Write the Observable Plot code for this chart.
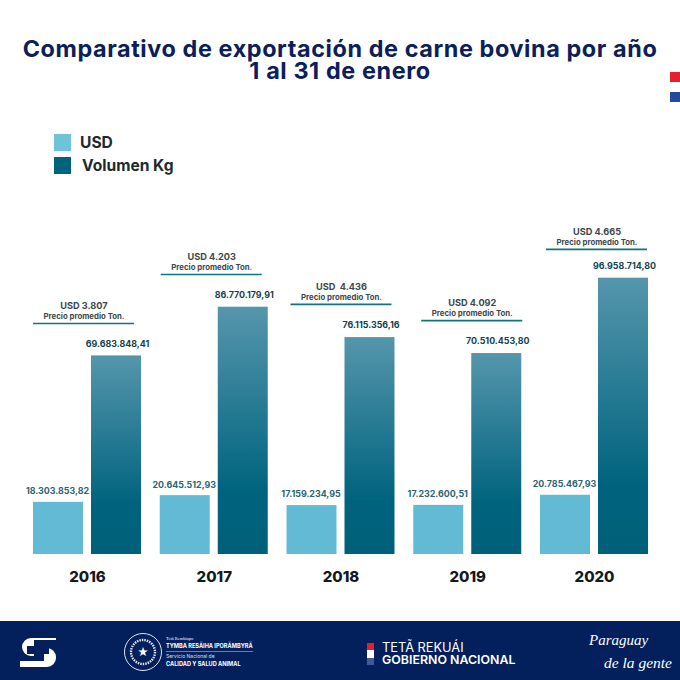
<!DOCTYPE html>
<html lang="es">
<head>
<meta charset="utf-8">
<script src="https://cdn.jsdelivr.net/npm/d3@7"></script>
<script src="https://cdn.jsdelivr.net/npm/@observablehq/plot@0.6"></script>
<style>
  html, body { margin: 0; padding: 0; background: #fff; width: 680px; height: 680px; overflow: hidden; font-family: Inter, sans-serif; }
  #head { position: relative; width: 680px; height: 180px; }
  #title { position: absolute; left: 0; top: 38px; width: 680px; text-align: center; color: #0b2059; font-weight: 700; font-size: 23.4px; line-height: 22px; letter-spacing: 0.6px; white-space: nowrap; }
  .flag { position: absolute; left: 670px; width: 10px; height: 10px; }
  .sw { position: absolute; left: 54px; width: 17px; height: 17px; }
  .lg { position: absolute; color: #1c2a30; font-weight: 700; font-size: 15.6px; line-height: 17px; white-space: nowrap; }
  #plot svg { display: block; }
  #foot { display: block; }
</style>
</head>
<body>
<div id="head">
  <div id="title">Comparativo de exportación de carne bovina por año<br>1 al 31 de enero</div>
  <div class="flag" style="top:72px;background:#e4202e"></div>
  <div class="flag" style="top:92px;background:#264a9b"></div>
  <div id="legend"></div>
</div>
<div id="plot"></div>
<svg id="foot" width="680" height="59" viewBox="0 621 680 59" xmlns="http://www.w3.org/2000/svg">
  <rect x="0" y="621" width="680" height="59" fill="#03205c"/>
  <path d="M56 638H31a9 9 0 0 0-9 9 9 9 0 0 0 9 9h9v-16h16z" fill="#fff"/>
  <path d="M20 661H44v-13h3a9 9 0 0 1 9 9v1a9 9 0 0 1-9 9H20z" fill="#fff"/>
  <path d="M34 640h8v6h7v8h-7v4h-8v-4h-7v-8h7z" fill="#03205c"/>
  <circle cx="143" cy="652" r="18.5" fill="none" stroke="#dfe5ef" stroke-width="1"/>
  <circle cx="143" cy="652" r="12" fill="none" stroke="#dfe5ef" stroke-width="2.4" stroke-dasharray="1.5 1"/>
  <text x="143" y="656" text-anchor="middle" fill="#fff" font-size="11">★</text>
  <g fill="#fff" font-family="Inter, sans-serif">
    <text x="166" y="640" font-size="4.5" font-family="Liberation Serif, serif">Tetã Rembiapo</text>
    <text x="166" y="648" font-size="5.6" font-weight="700">TYMBA RESÃIHA IPORÃMBYRÃ</text>
    <rect x="166" y="651" width="87" height="0.6" opacity="0.7"/>
    <text x="166" y="658" font-size="5" opacity="0.85">Servicio Nacional de</text>
    <text x="166" y="666" font-size="5.6" font-weight="700">CALIDAD Y SALUD ANIMAL</text>
    <text x="382" y="652" font-size="12.8" font-weight="400">TETÃ REKUÁI</text>
    <text x="382" y="664" font-size="12.4" font-weight="600">GOBIERNO NACIONAL</text>
    <rect x="367" y="643" width="7" height="7" fill="#e4202e"/>
    <rect x="367" y="650" width="7" height="8" fill="#ffffff"/>
    <rect x="367" y="658" width="7" height="7" fill="#3f5a96"/>
    <text x="589" y="645" font-size="15" font-style="italic" font-family="Liberation Serif, serif">Paraguay</text>
    <text x="604" y="668" font-size="15.5" font-style="italic" font-family="Liberation Serif, serif">de la gente</text>
  </g>
</svg>
<script>
// Values printed on the chart
const years = ["2016", "2017", "2018", "2019", "2020"];
const seriesNames = ["USD", "Volumen Kg"];
const usd = [18303853.82, 20645512.93, 17159234.95, 17232600.51, 20785467.93];
const volumen = [69683848.41, 86770179.91, 76115356.16, 70510453.80, 96958714.80];
const usdLabels = ["18.303.853,82", "20.645.512,93", "17.159.234,95", "17.232.600,51", "20.785.467,93"];
const volumenLabels = ["69.683.848,41", "86.770.179,91", "76.115.356,16", "70.510.453,80", "96.958.714,80"];
const precio = ["USD 3.807", "USD 4.203", "USD  4.436", "USD 4.092", "USD 4.665"];
const precioLabel = "Precio promedio Ton.";
const colors = ["#62bad4", "#00637e"];

// Layout only: how far each price note sits from its group and above its volume bar, in pixels
const noteShift = [0, 1, 4, 8, 6];
const noteRise = [32.4, 32.7, 33.1, 33, 28.7];

// Legend
const legend = d3.select("#legend");
[[134, 80], [157, 82]].forEach(([top, left], i) => {
  legend.append("div").attr("class", "sw").style("top", top + "px").style("background", i ? colors[1] : "#6fc3d9");
  legend.append("div").attr("class", "lg").style("top", top + "px").style("left", left + "px").text(seriesNames[i]);
});

const rows = years.flatMap((year, i) => [
  {year, series: seriesNames[0], value: usd[i], label: usdLabels[i]},
  {year, series: seriesNames[1], value: volumen[i], label: volumenLabels[i]}
]);
const avg = years.map((year, i) => ({year, value: volumen[i], precio: precio[i]}));

const pxPerM = 2.85;
const marginTop = 40, marginBottom = 67, height = 441;
const yMax = (height - marginTop - marginBottom) / pxPerM * 1e6;

const noteMarks = avg.flatMap((d, i) => [
  Plot.ruleY([d], {fx: "year", y: "value", dx: noteShift[i], dy: -noteRise[i], insetRight: 7, stroke: "#0e7480", strokeWidth: 1.7}),
  Plot.text([d], {fx: "year", y: "value", text: "precio", dx: noteShift[i] - 3.5, dy: -noteRise[i] - 17, fontSize: 9.2, fontWeight: 700, fill: "#3d474c"}),
  Plot.text([d], {fx: "year", y: "value", text: () => precioLabel, dx: noteShift[i] - 3.5, dy: -noteRise[i] - 7, fontSize: 7.8, fontWeight: 700, fill: "#3d474c"})
]);

const chart = Plot.plot({
  width: 680,
  height,
  marginTop,
  marginBottom,
  marginLeft: 33,
  marginRight: 32,
  style: {fontFamily: "Inter, sans-serif", background: "transparent"},
  fx: {domain: years, paddingInner: 0.148, paddingOuter: 0, round: false, label: null},
  x: {domain: seriesNames, paddingInner: 0.138, paddingOuter: 0, round: false, axis: null, label: null},
  y: {domain: [0, yMax], axis: null, label: null},
  color: {domain: seriesNames, range: [colors[0], "url(#volGrad)"]},
  marks: [
    Plot.axisFx({anchor: "bottom", tickSize: 0, tickPadding: 17, fontSize: 15, fontWeight: 800, fill: "#14191c", label: null}),
    Plot.barY(rows, {fx: "year", x: "series", y: "value", fill: "series"}),
    Plot.text(rows.filter(d => d.series === seriesNames[0]), {fx: "year", x: "series", y: "value", text: "label", dy: -11, dx: -1, fontSize: 8.9, fontWeight: 700, fill: "#2a6477"}),
    Plot.text(rows.filter(d => d.series === seriesNames[1]), {fx: "year", x: "series", y: "value", text: "label", dy: -12, dx: 1, fontSize: 8.9, fontWeight: 700, fill: "#123f50"}),
    ...noteMarks
  ]
});

const defs = d3.select(chart).insert("defs", ":first-child");
const grad = defs.append("linearGradient").attr("id", "volGrad").attr("x1", 0).attr("y1", 0).attr("x2", 0).attr("y2", 1);
grad.append("stop").attr("offset", "0%").attr("stop-color", "#5596ac");
grad.append("stop").attr("offset", "75%").attr("stop-color", "#00637e");
grad.append("stop").attr("offset", "100%").attr("stop-color", "#00607a");

document.getElementById("plot").appendChild(chart);
</script>
</body>
</html>
